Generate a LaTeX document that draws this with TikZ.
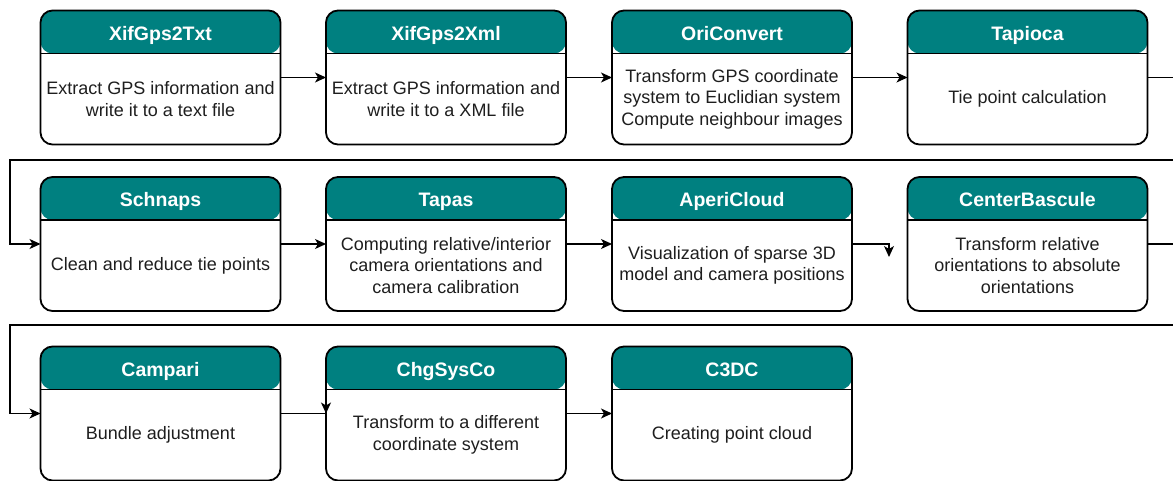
\documentclass[tikz,border=0pt]{standalone}
\usepackage{fontspec}
\setmainfont{Liberation Sans}
\usetikzlibrary{arrows.meta,calc}

\definecolor{headteal}{RGB}{0,128,128}
\definecolor{inkgray}{RGB}{30,30,30}

\tikzset{
  procbox/.style={draw=black, line width=1.8pt, rounded corners=12pt,
    minimum width=240pt, minimum height=134pt, inner sep=0pt, outer sep=0pt,
    path picture={
      \fill[headteal] (path picture bounding box.north west)
        rectangle ([yshift=-43pt]path picture bounding box.north east);
      \draw[line width=1.6pt] ([yshift=-43pt]path picture bounding box.north west)
        -- ([yshift=-43pt]path picture bounding box.north east);}},
  titletext/.style={text=white, font=\fontsize{19.5}{22}\selectfont\bfseries, inner sep=0pt, anchor=base},
  bodytext/.style={text=inkgray, align=center, font=\fontsize{18}{21.5}\selectfont, inner sep=0pt},
  flow/.style={draw=black, line width=1.2pt, -{Stealth[length=11pt,width=10pt,inset=3pt]}},
  plainflow/.style={draw=black, line width=1.2pt},
}

% one processing stage: name, x, y, title, description
\newcommand\stage[5]{%
  \node[procbox] (#1) at (#2,#3) {};
  \node[titletext] (#1-t) at ([yshift=-30pt]#1.north) {#4};
  \node[bodytext] (#1-b) at ([yshift=-88.5pt]#1.north) {#5};
}

\begin{document}
\begin{tikzpicture}[x=1pt,y=-1pt]
  \useasboundingbox (0,0) rectangle (1173,481);
  \clip (0,0) rectangle (1173,481);

  % row 1
  \stage{xtxt}{160.5}{77.5}{XifGps2Txt}{Extract GPS information and\\write it to a text file}
  \stage{xxml}{446}{77.5}{XifGps2Xml}{Extract GPS information and\\write it to a XML file}
  \stage{ori}{732}{77.5}{OriConvert}{Transform GPS coordinate\\system to Euclidian system\\Compute neighbour images}
  \stage{tap}{1027.5}{77.5}{Tapioca}{Tie point calculation}
  % row 2
  \stage{sch}{160.5}{244}{Schnaps}{Clean and reduce tie points}
  \stage{tps}{446}{244}{Tapas}{Computing relative/interior\\camera orientations and\\camera calibration}
  \stage{ape}{732}{244}{AperiCloud}{Visualization of sparse 3D\\model and camera positions}
  \stage{cbs}{1027.5}{244}{CenterBascule}{Transform relative\\orientations to absolute\\orientations}
  % row 3
  \stage{cmp}{160.5}{413.5}{Campari}{Bundle adjustment}
  \stage{chg}{446}{413.5}{ChgSysCo}{Transform to a different\\coordinate system}
  \stage{c3d}{732}{413.5}{C3DC}{Creating point cloud}

  % turning points of the wrap-around connectors
  \coordinate (r1out) at (1190,77.5);
  \coordinate (r1down) at (1190,160);
  \coordinate (r1left) at (10,160);
  \coordinate (r2out) at (1190,244);
  \coordinate (r2down) at (1190,325);
  \coordinate (r2left) at (10,325);
  \coordinate (drop) at (889,244);
  \coordinate (dropend) at (889,257);

  % connectors
  \draw[flow] (xtxt) -- (xxml);
  \draw[flow] (xxml) -- (ori);
  \draw[flow] (ori) -- (tap);
  \draw[flow] (tap.east) -- (r1out) -- (r1down) -- (r1left) |- (sch.west);
  \draw[flow] (sch) -- (tps);
  \draw[flow] (tps) -- (ape);
  \draw[flow] (ape.east) -- (drop) -- (dropend);
  \draw[flow] (cbs.east) -- (r2out) -- (r2down) -- (r2left) |- (cmp.west);
  \draw[plainflow] (cmp.east) -- (chg.west);
  \draw[flow] ([yshift=11pt]chg.west) -- (chg.west);
  \draw[flow] (chg) -- (c3d);
\end{tikzpicture}
\end{document}
